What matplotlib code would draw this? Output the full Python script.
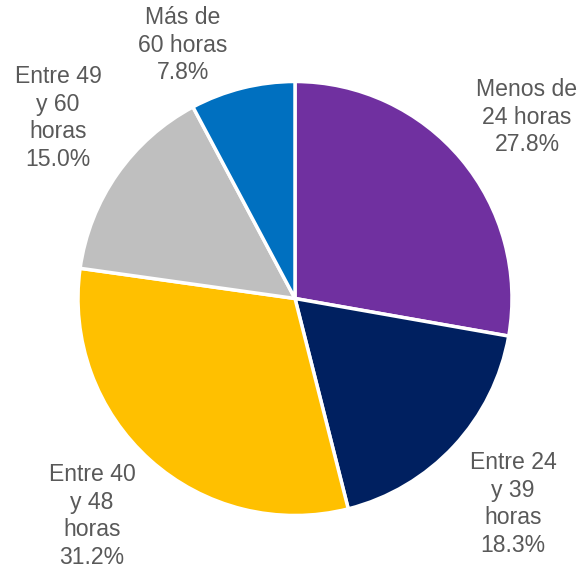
import matplotlib
matplotlib.use("Agg")
import matplotlib.pyplot as plt

categories = ["Menos de\n24 horas", "Entre 24\ny 39\nhoras", "Entre 40\ny 48\nhoras", "Entre 49\ny 60\nhoras", "Más de\n60 horas"]
values = [27.8, 18.3, 31.2, 15.0, 7.8]
colors = ["#7030A0", "#002060", "#FFC000", "#BFBFBF", "#0070C0"]
label_pos = [(1.069, 0.836), (1.005, -0.947), (-0.935, -1.002), (-1.092, 0.832), (-0.516, 1.168)]

plt.rcParams['font.family'] = ['Liberation Sans', 'DejaVu Sans']

fig = plt.figure(figsize=(5.82, 5.71), dpi=100)
ax = fig.add_axes([0, 0, 1, 1])
ax.pie(values, colors=colors, startangle=90, counterclock=False, radius=1.0,
       wedgeprops=dict(edgecolor="white", linewidth=2.5))
for cat, v, (x, y) in zip(categories, values, label_pos):
    ax.text(x, y, f"{cat}\n{v:.1f}%", ha="center", va="center", fontsize=16.6,
            color="#595959", linespacing=1.25)
ax.set_aspect("auto")
ax.set_xlim(-295/217, 287/217)
ax.set_ylim(-272.5/217, 298.5/217)
ax.axis("off")
fig.savefig("out.png", dpi=100, facecolor="white")
